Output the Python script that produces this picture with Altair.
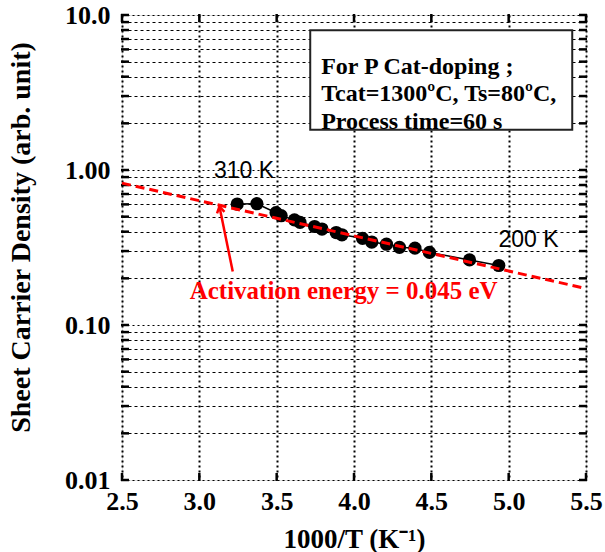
import math
import altair as alt
import pandas as pd

# Measured sheet carrier density vs inverse temperature
inv_temp = [3.245, 3.372, 3.496, 3.529, 3.615, 3.651, 3.745, 3.793, 3.885, 3.922,
            4.055, 4.115, 4.210, 4.294, 4.394, 4.488, 4.747, 4.936]
density = [0.603, 0.606, 0.530, 0.507, 0.477, 0.459, 0.432, 0.416, 0.395, 0.382,
           0.3625, 0.343, 0.332, 0.317, 0.313, 0.294, 0.263, 0.242]

# Arrhenius fit line from the activation energy
ea_ev = 0.045
k_b = 8.617e-5  # eV/K
fit_ref_x = 4.0
fit_ref_y = 0.376
fit_x = [2.5, 5.5]
fit_y = [fit_ref_y * math.exp(-ea_ev * (x - fit_ref_x) / (k_b * 1000)) for x in fit_x]

# Arrow pointing at the fit line
arrow_x = [3.216, 3.130]
arrow_y = [0.2213, 0.582]

# Condition box
box_x = [3.717, 5.411]
box_y = [1.821, 7.98]
box_lines = ["For P Cat-doping ;", "Tcat=1300\u00baC, Ts=80\u00baC,", "Process time=60 s"]
box_line_x = [3.788, 3.788, 3.788]
box_line_y = [4.17, 2.79, 1.848]

# Temperature labels
temp_labels = ["310 K", "200 K"]
temp_label_x = [3.289, 5.128]
temp_label_y = [0.892, 0.318]

ea_label = "Activation energy = 0.045 eV"
ea_label_x = [3.933]
ea_label_y = [0.1475]

x_ticks = [2.5, 3.0, 3.5, 4.0, 4.5, 5.0, 5.5]
y_ticks = [m * 10.0 ** e for e in (-2, -1, 0) for m in range(1, 10)] + [10.0]
x_range = [2.5, 5.5]
y_range = [0.01, 10]

SERIF = "Liberation Serif"
SANS = "Liberation Sans"

x_scale = alt.Scale(domain=x_range, nice=False, zero=False)
y_scale = alt.Scale(type="log", domain=y_range, nice=False)

x_axis = alt.Axis(
    values=x_ticks, format=".1f", title="1000/T (K\u207b\u00b9)",
    grid=True, gridColor="black", gridDash=[2, 3], gridWidth=2,
    ticks=False, domain=False, labelFlush=False, labelPadding=8,
    labelFont=SERIF, labelFontWeight="bold", labelFontSize=26, labelColor="black",
    titleFont=SERIF, titleFontWeight="bold", titleFontSize=27, titleColor="black",
    titleX=232, titleY=67, titleBaseline="alphabetic",
)
y_axis = alt.Axis(
    values=y_ticks,
    labelExpr=("abs(datum.value - 10) < 1e-9 ? '10.0' : abs(datum.value - 1) < 1e-9 ? '1.00' : "
               "abs(datum.value - 0.1) < 1e-9 ? '0.10' : abs(datum.value - 0.01) < 1e-9 ? '0.01' : ''"),
    title="Sheet Carrier Density (arb. unit)",
    grid=True, gridColor="black", gridWidth=1.2,
    gridDash={"condition": {"test": "abs(log(datum.value) / LN10 - round(log(datum.value) / LN10)) < 1e-6",
                            "value": [2, 3]},
              "value": [3, 3]},
    ticks=False, domain=False, labelPadding=12, labelOverlap=False,
    labelFont=SERIF, labelFontWeight="bold", labelFontSize=26, labelColor="black",
    titleFont=SERIF, titleFontWeight="bold", titleFontSize=28, titleColor="black",
    titleX=-101, titleY=222, titleBaseline="middle", titleAngle=270, titleAlign="center",
)

meas = pd.DataFrame({"x": inv_temp, "y": density})
fit = pd.DataFrame({"x": fit_x, "y": fit_y})
arrow = pd.DataFrame({"x": arrow_x, "y": arrow_y})

base_x = alt.X("x:Q", scale=x_scale, axis=x_axis)
base_y = alt.Y("y:Q", scale=y_scale, axis=y_axis)

# Inward frame ticks on all four sides
is_decade = [abs(math.log10(v) - round(math.log10(v))) < 1e-6 for v in y_ticks]
left_ticks = pd.DataFrame({"x": [x_range[0]] * len(y_ticks), "y": y_ticks, "major": is_decade})
right_ticks = pd.DataFrame({"x": [x_range[1]] * len(y_ticks), "y": y_ticks, "major": is_decade})
top_ticks = pd.DataFrame({"x": x_ticks, "y": [y_range[1]] * len(x_ticks)})
bottom_ticks = pd.DataFrame({"x": x_ticks, "y": [y_range[0]] * len(x_ticks)})

tick_l = alt.Chart(left_ticks).mark_tick(orient="horizontal", size=8, thickness=2.5, xOffset=3,
                                         color="black", opacity=1).encode(x="x:Q", y="y:Q")
tick_r = alt.Chart(right_ticks).mark_tick(orient="horizontal", size=8, thickness=2.5, xOffset=-3,
                                          color="black", opacity=1).encode(x="x:Q", y="y:Q")
tick_t = alt.Chart(top_ticks).mark_tick(orient="vertical", size=8, thickness=2.5, yOffset=3,
                                        color="black", opacity=1).encode(x="x:Q", y="y:Q")
tick_b = alt.Chart(bottom_ticks).mark_tick(orient="vertical", size=8, thickness=2.5, yOffset=-3,
                                           color="black", opacity=1).encode(x="x:Q", y="y:Q")

box = alt.Chart(pd.DataFrame({"x": [box_x[0]], "x2": [box_x[1]], "y": [box_y[0]], "y2": [box_y[1]]})).mark_rect(
    fill="white", stroke="#222222", strokeWidth=2
).encode(x=alt.X("x:Q", scale=x_scale), x2="x2", y=alt.Y("y:Q", scale=y_scale), y2="y2")

box_text = alt.Chart(pd.DataFrame({"x": box_line_x, "y": box_line_y, "t": box_lines})).mark_text(
    align="left", baseline="alphabetic", font=SERIF, fontWeight="bold", fontSize=24, color="black"
).encode(x=alt.X("x:Q", scale=x_scale), y=alt.Y("y:Q", scale=y_scale), text="t:N")

conn = alt.Chart(meas).mark_line(color="black", strokeWidth=1.5).encode(x=base_x, y=base_y)
pts = alt.Chart(meas).mark_circle(color="black", size=175, opacity=1).encode(x="x:Q", y="y:Q")

fit_line = alt.Chart(fit).mark_line(color="#ff0000", strokeWidth=3, strokeDash=[9, 5]).encode(
    x="x:Q", y="y:Q")

arrow_line = alt.Chart(arrow).mark_line(color="#ff0000", strokeWidth=2.5).encode(
    x="x:Q", y="y:Q", order=alt.Order("x:Q", sort="descending"))
arrow_head = alt.Chart(arrow.iloc[[1]]).mark_point(
    shape="M-0.6,1 L0,0 L0.6,1", filled=False, color="#ff0000", strokeWidth=2.5, size=160,
    angle=348, opacity=1
).encode(x="x:Q", y="y:Q")

temp_text = alt.Chart(pd.DataFrame({"x": temp_label_x, "y": temp_label_y, "t": temp_labels})).mark_text(
    align="center", baseline="alphabetic", font=SANS, fontSize=23, color="black"
).encode(x="x:Q", y="y:Q", text="t:N")

ea_text = alt.Chart(pd.DataFrame({"x": ea_label_x, "y": ea_label_y, "t": [ea_label]})).mark_text(
    align="center", baseline="alphabetic", font=SERIF, fontWeight="bold", fontSize=25, color="#ff0000"
).encode(x="x:Q", y="y:Q", text="t:N")

chart = alt.layer(
    conn, tick_l, tick_r, tick_t, tick_b, box, box_text, pts, fit_line,
    arrow_line, arrow_head, temp_text, ea_text
).properties(
    width=464, height=465,
    padding={"left": 122, "top": 15, "right": 19, "bottom": 72},
    autosize=alt.AutoSizeParams(type="none"),
).configure_view(
    stroke="black", strokeWidth=3
).configure(background="white")

chart.save("out.html", embed_options={"renderer": "svg", "actions": False})
